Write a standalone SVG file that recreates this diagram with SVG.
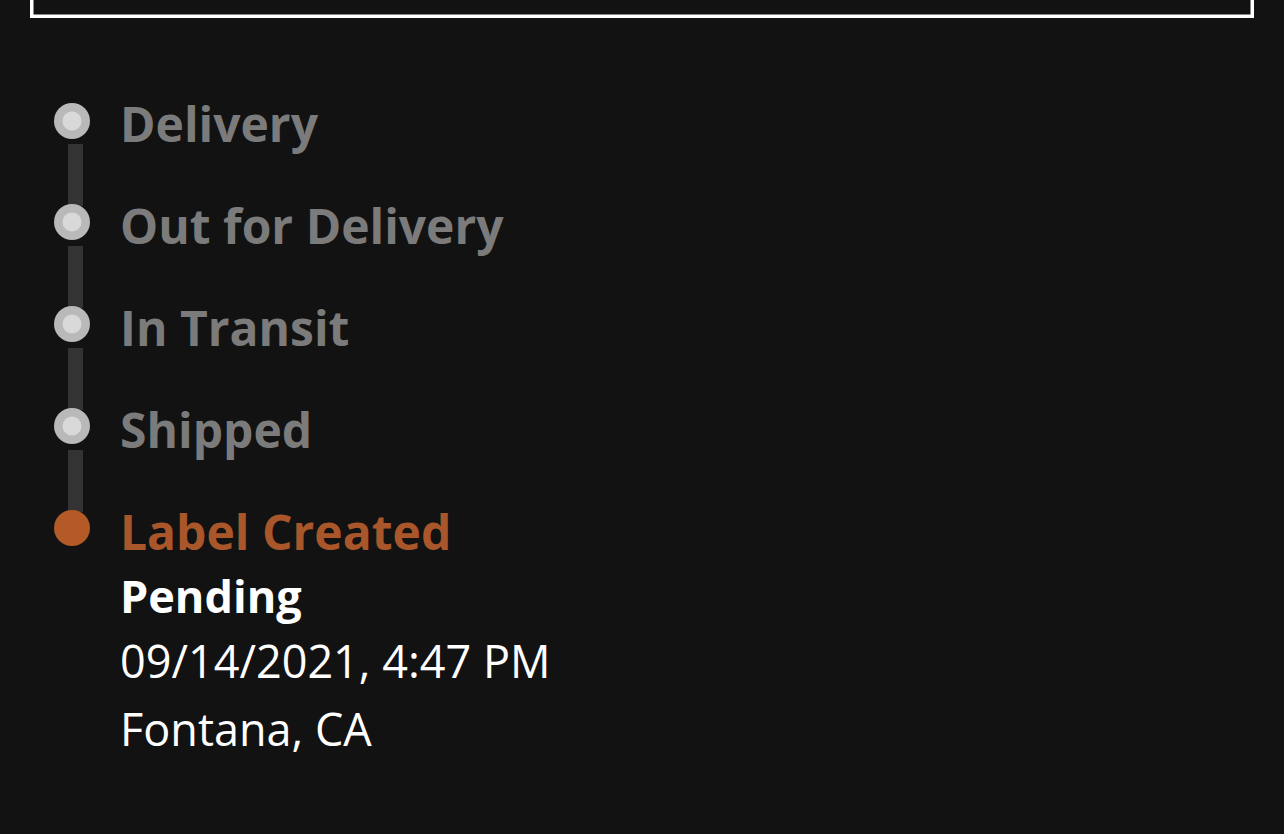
<svg xmlns="http://www.w3.org/2000/svg" width="1284" height="834" viewBox="0 0 1284 834">
<style>
.bg{fill:#121212}
.frame{fill:none;stroke:#ffffff;stroke-width:3.5}
.track{fill:#333333}
.dot{fill:#b9b9b9}
.dotin{fill:#d9d9d9}
.step{font-family:"Open Sans","Liberation Sans",sans-serif;font-weight:700;font-size:48px;fill:#7b7b7b}
.cur{fill:#b35a26}
.curtext{fill:#a8562a}
.status{font-family:"Open Sans","Liberation Sans",sans-serif;font-weight:700;font-size:45px;fill:#ffffff}
.info{font-family:"Open Sans","Liberation Sans",sans-serif;font-weight:400;font-size:45px;fill:#ffffff}
</style>
<rect class="bg" x="0" y="0" width="1284" height="834"/>
<rect class="frame" x="31.75" y="-20" width="1220.5" height="36.25"/>
<g id="connectors">
<rect class="track" x="68" y="144" width="15" height="62"/>
<rect class="track" x="68" y="246" width="15" height="62"/>
<rect class="track" x="68" y="348" width="15" height="62"/>
<rect class="track" x="68" y="450" width="15" height="62"/>
</g>
<g id="delivery">
<circle class="dot" cx="72" cy="121" r="18"/>
<circle class="dotin" cx="72" cy="121" r="9.5"/>
<text class="step" x="120" y="142">Delivery</text>
</g>
<g id="out-for-delivery">
<circle class="dot" cx="72" cy="222" r="18"/>
<circle class="dotin" cx="72" cy="222" r="9.5"/>
<text class="step" x="120" y="244">Out for Delivery</text>
</g>
<g id="in-transit">
<circle class="dot" cx="72" cy="324" r="18"/>
<circle class="dotin" cx="72" cy="324" r="9.5"/>
<text class="step" x="120" y="346">In Transit</text>
</g>
<g id="shipped">
<circle class="dot" cx="72" cy="426" r="18"/>
<circle class="dotin" cx="72" cy="426" r="9.5"/>
<text class="step" x="120" y="448">Shipped</text>
</g>
<g id="label-created">
<circle class="cur" cx="72" cy="528" r="18"/>
<text class="step curtext" x="120" y="550">Label Created</text>
<text class="status" x="120" y="613">Pending</text>
<text class="info" x="120" y="678">09/14/2021, 4:47 PM</text>
<text class="info" x="120" y="746">Fontana, CA</text>
</g>
</svg>
